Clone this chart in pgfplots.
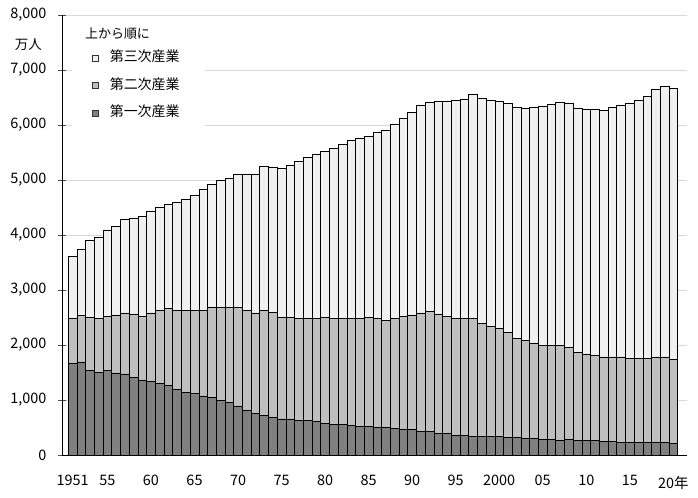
\documentclass[border=0pt]{standalone}
\usepackage{pgfplots}
\usepackage{pgfplotstable}
\pgfplotsset{compat=1.18}
\usepackage{fontspec}
\setmainfont{Noto Sans CJK JP}
\definecolor{prim}{HTML}{808080}
\definecolor{seco}{HTML}{BFBFBF}
\definecolor{tert}{HTML}{F0F0F0}
\definecolor{gridc}{HTML}{D9D9D9}

\pgfplotstableread{
year P S T
1951 1667 818 1133
1952 1685 860 1194
1953 1545 958 1400
1954 1509 976 1478
1955 1533 994 1551
1956 1491 1054 1618
1957 1473 1109 1696
1958 1418 1146 1738
1959 1351 1176 1812
1960 1333 1249 1848
1961 1297 1327 1872
1962 1261 1399 1891
1963 1200 1424 1963
1964 1139 1485 2024
1965 1121 1503 2103
1966 1073 1551 2206
1967 1049 1630 2242
1968 988 1691 2321
1969 952 1727 2357
1970 891 1788 2418
1971 812 1812 2485
1972 758 1824 2527
1973 715 1909 2624
1974 679 1909 2642
1975 655 1848 2709
1976 655 1848 2763
1977 630 1855 2848
1978 630 1855 2921
1979 612 1873 2982
1980 576 1927 3018
1981 558 1927 3096
1982 558 1927 3157
1983 533 1952 3230
1984 515 1970 3272
1985 515 1988 3293
1986 497 1988 3373
1987 497 1951 3461
1988 479 2006 3521
1989 461 2066 3594
1990 461 2084 3691
1991 424 2158 3775
1992 424 2182 3806
1993 388 2176 3866
1994 388 2139 3903
1995 358 2127 3969
1996 358 2127 3987
1997 339 2146 4066
1998 339 2049 4103
1999 340 2005 4109
2000 339 1970 4121
2001 321 1909 4164
2002 321 1794 4200
2003 303 1776 4218
2004 297 1727 4291
2005 285 1709 4339
2006 285 1709 4382
2007 272 1722 4424
2008 280 1677 4437
2009 267 1593 4437
2010 267 1557 4455
2011 267 1539 4473
2012 248 1534 4478
2013 248 1534 4533
2014 236 1546 4575
2015 230 1533 4631
2016 230 1533 4691
2017 230 1533 4752
2018 230 1552 4866
2019 230 1552 4927
2020 212 1533 4921
}\datatable

\begin{document}
\begin{tikzpicture}
\begin{axis}[
  scale only axis,
  width=625bp, height=440bp,
  xmin=1949.78, xmax=2021.57,
  ymin=0, ymax=8000,
  enlargelimits=false,
  clip=false,
  ybar stacked, bar width=1, bar shift=0pt,
  axis x line=bottom, axis y line=left,
  axis line style={-, black, line width=1bp},
  ytick={0,1000,...,8000},
  ymajorgrids,
  grid style={draw=gridc, line width=0.9bp},
  major tick length=8bp,
  ytick style={draw=black!70, line width=0.9bp},
  xtick={1951,1955,1960,1965,1970,1975,1980,1985,1990,1995,2000,2005,2010,2015,2020},
  xticklabels={1951,55,60,65,70,75,80,85,90,95,2000,05,10,15,{\raisebox{-3bp}{20年}}},
  major x tick style={draw=none},
  scaled y ticks=false,
  /pgf/number format/fixed,
  /pgf/number format/1000 sep={,},
  /pgf/number format/assume math mode=true,
  yticklabel style={font=\fontsize{14.5}{16}\selectfont, xshift=-8bp},
  xticklabel style={font=\fontsize{14.5}{16}\selectfont, anchor=north, text height=10bp, text depth=0bp, inner sep=0pt, yshift=-16bp},
  reverse legend,
  legend style={at={(axis cs:1953.23,7373)}, anchor=north west, draw=none, fill=none,
    font=\fontsize{14}{16}\selectfont, row sep=10.5bp, inner sep=0pt,
    nodes={inner sep=2bp, text height=10bp, text depth=3bp},
    /tikz/every odd column/.append style={column sep=9bp}},
  legend cell align=left,
]
\fill[white] (axis cs:1950.93,5945) rectangle (axis cs:1966.2,7950);
\addplot[fill=prim, draw=black, line width=0.7bp,
  legend image code/.code={\draw[fill=prim, draw=black!80, line width=0.6bp] (0bp,-3bp) rectangle (6bp,3bp);}]
  table[x=year, y=P] {\datatable};
\addlegendentry{第一次産業}
\addplot[fill=seco, draw=black, line width=0.7bp,
  legend image code/.code={\draw[fill=seco, draw=black!80, line width=0.6bp] (0bp,-3bp) rectangle (6bp,3bp);}]
  table[x=year, y=S] {\datatable};
\addlegendentry{第二次産業}
\addplot[fill=tert, draw=black, line width=0.7bp,
  legend image code/.code={\draw[fill=tert, draw=black!80, line width=0.6bp] (0bp,-3bp) rectangle (6bp,3bp);}]
  table[x=year, y=T] {\datatable};
\addlegendentry{第三次産業}
\coordinate (tpos) at (axis cs:1952.42,7654);
\coordinate (upos) at (axis cs:1949.78,7455);
\end{axis}
\node[anchor=west, inner sep=0pt, text=black, font=\fontsize{13}{15}\selectfont] at (tpos) {上から順に};
\node[anchor=east, inner sep=0pt, font=\fontsize{13.5}{15}\selectfont] at ([xshift=-20bp]upos) {万人};
\pgfresetboundingbox
\path (-62bp,-43bp) rectangle (636bp,455bp);
\end{tikzpicture}
\end{document}
